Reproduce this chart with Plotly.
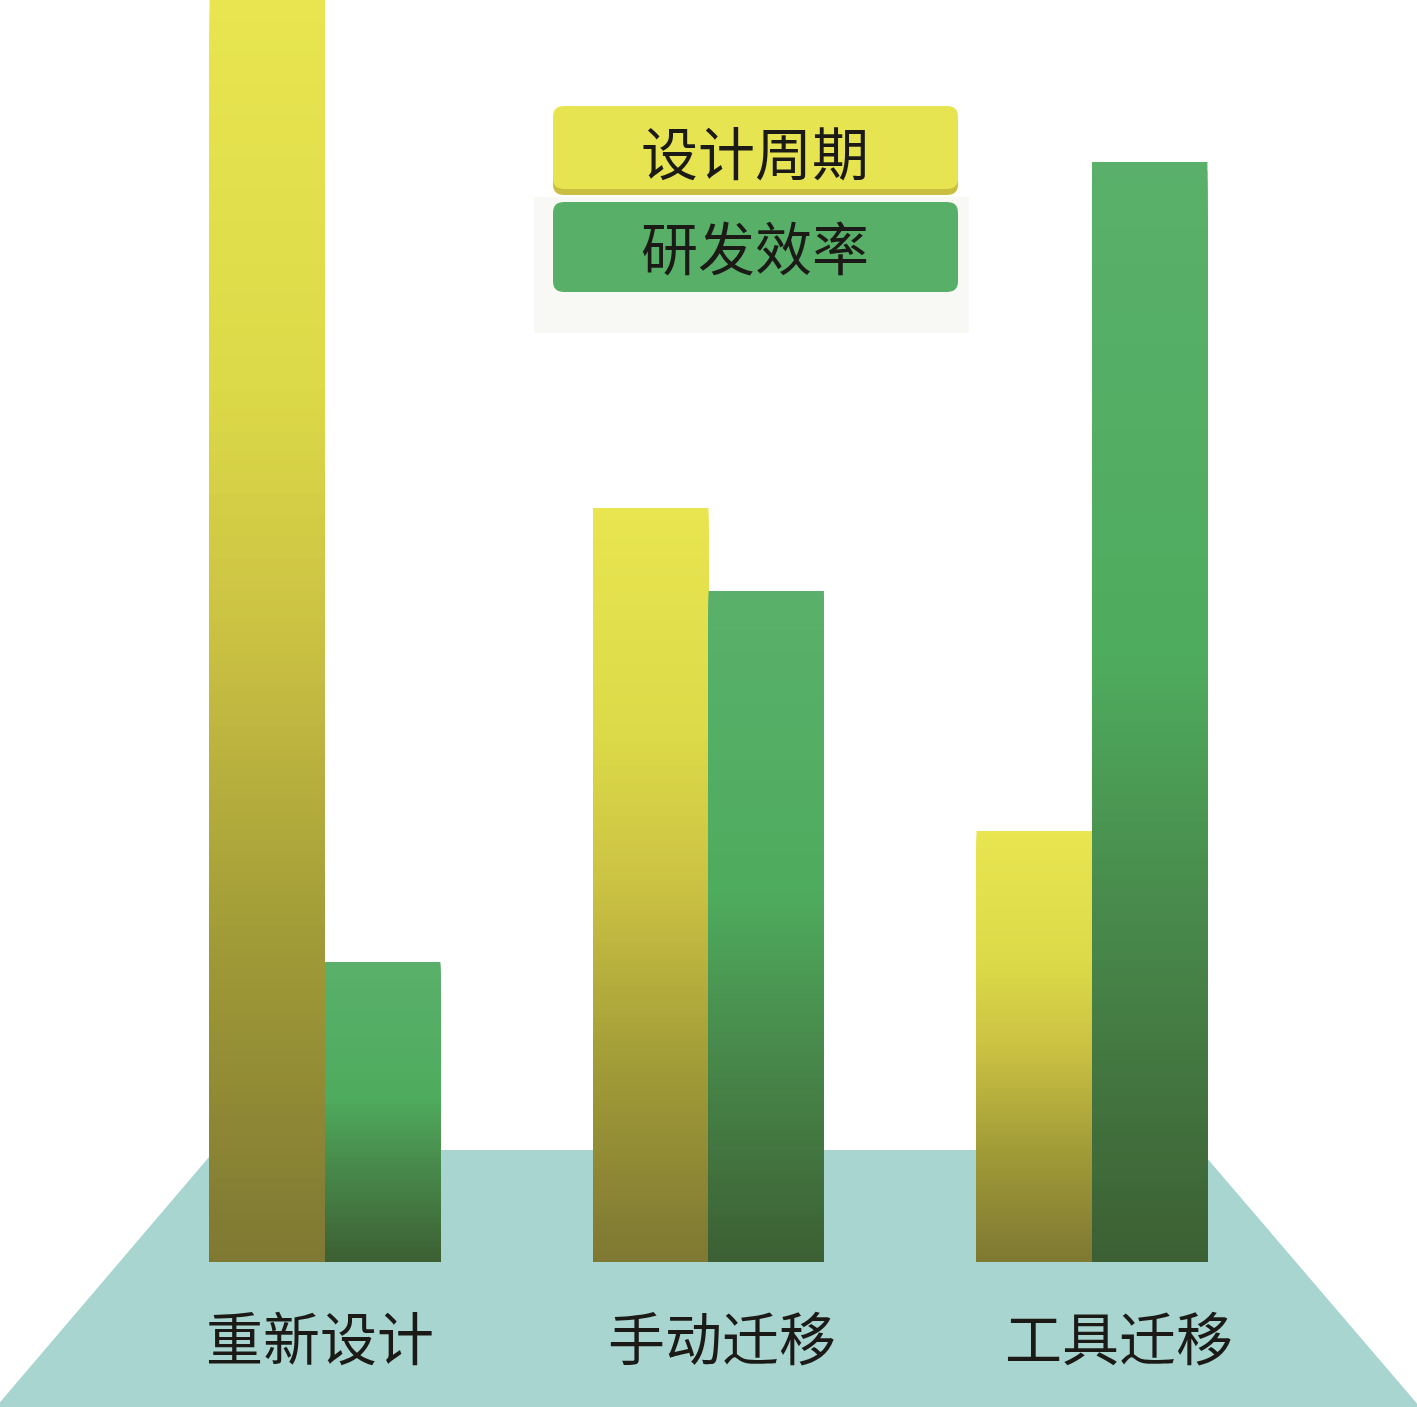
import plotly.graph_objects as go

# ---- data ----
categories = ["重新设计", "手动迁移", "工具迁移"]
series_names = ["设计周期", "研发效率"]
design_cycle = [12.62, 7.54, 4.31]
rd_efficiency = [3.00, 6.71, 11.00]

# ---- style ----
W, H = 1417, 1407
Y_TOP = 12.62
BASE_PX = 1262
Y_MIN = -Y_TOP * (H - BASE_PX) / BASE_PX
N_SEG = 120
BAR_W = 0.301

yellow_stops = [(0.0, "#E8E550"), (0.3, "#DCDA48"), (0.5, "#CBC243"),
                (0.75, "#A09A37"), (1.0, "#7E7833")]
green_stops = [(0.0, "#5AB06A"), (0.45, "#4EAC5E"), (0.62, "#4A9250"),
               (0.8, "#447A42"), (1.0, "#3C5F33")]


def hex2rgb(h):
    h = h.lstrip("#")
    return tuple(int(h[i:i + 2], 16) for i in (0, 2, 4))


def grad(stops, t):
    for (t0, c0), (t1, c1) in zip(stops[:-1], stops[1:]):
        if t <= t1:
            f = 0 if t1 == t0 else (t - t0) / (t1 - t0)
            a, b = hex2rgb(c0), hex2rgb(c1)
            r = [round(a[i] + (b[i] - a[i]) * f) for i in range(3)]
            return f"rgb({r[0]},{r[1]},{r[2]})"
    r = hex2rgb(stops[-1][1])
    return f"rgb({r[0]},{r[1]},{r[2]})"


fig = go.Figure()

for vals, stops, off in [(design_cycle, yellow_stops, -BAR_W),
                         (rd_efficiency, green_stops, 0.0)]:
    for k in range(N_SEG):
        frac = 1 - k / N_SEG
        fig.add_trace(go.Bar(
            x=list(range(len(categories))),
            y=[v * frac for v in vals],
            width=BAR_W, offset=off,
            marker=dict(color=grad(stops, (k + 0.5) / N_SEG), line=dict(width=0)),
            hoverinfo="skip", showlegend=False,
        ))

def px(x):
    return x / W

def py(y):
    return 1 - y / H

shapes = []
# floor trapezoid
shapes.append(dict(
    type="path", xref="paper", yref="paper", layer="below",
    path=f"M {px(215)},{py(1150)} L {px(1200)},{py(1150)} L {px(1420)},{py(1407)} L {px(-4)},{py(1407)} Z",
    fillcolor="#A8D5CF", line=dict(width=0),
))


def rounded(x0, y0, x1, y1, r):
    X0, X1 = px(x0), px(x1)
    Y0, Y1 = py(y0), py(y1)  # Y0 top, Y1 bottom
    rx, ry = r / W, r / H
    return (f"M {X0+rx},{Y0} L {X1-rx},{Y0} Q {X1},{Y0} {X1},{Y0-ry} "
            f"L {X1},{Y1+ry} Q {X1},{Y1} {X1-rx},{Y1} L {X0+rx},{Y1} "
            f"Q {X0},{Y1} {X0},{Y1+ry} L {X0},{Y0-ry} Q {X0},{Y0} {X0+rx},{Y0} Z")

# legend panel
shapes.append(dict(type="rect", xref="paper", yref="paper", layer="above",
                   x0=px(534), x1=px(969), y0=py(333), y1=py(197),
                   fillcolor="#F8F9F4", line=dict(width=0)))
# yellow legend box (with darker bottom rim)
shapes.append(dict(type="path", xref="paper", yref="paper", layer="above",
                   path=rounded(553, 110, 958, 195, 11), fillcolor="#C9BE3F", line=dict(width=0)))
shapes.append(dict(type="path", xref="paper", yref="paper", layer="above",
                   path=rounded(553, 106, 958, 189, 11), fillcolor="#E7E452", line=dict(width=0)))
# green legend box
shapes.append(dict(type="path", xref="paper", yref="paper", layer="above",
                   path=rounded(553, 202, 958, 292, 11), fillcolor="#58AF67", line=dict(width=0)))

FONT = "Noto Sans CJK SC"
annotations = []
for name, yc in zip(series_names, [150, 245]):
    annotations.append(dict(text=name, xref="paper", yref="paper", x=px(755), y=py(yc),
                            xanchor="center", yanchor="middle", showarrow=False,
                            font=dict(family=FONT, size=57, color="#1B1A17")))

label_shift = [-5, 13, 27]
for i, (c, s) in enumerate(zip(categories, label_shift)):
    annotations.append(dict(text=c, xref="x", yref="paper", x=i, xshift=s, y=py(1335),
                            xanchor="center", yanchor="middle", showarrow=False,
                            font=dict(family=FONT, size=57, color="#1B1A17")))

x_lo = -325 / 383.5
x_hi = x_lo + W / 383.5

fig.update_layout(
    width=W, height=H,
    margin=dict(l=0, r=0, t=0, b=0),
    paper_bgcolor="white", plot_bgcolor="rgba(0,0,0,0)",
    barmode="overlay", showlegend=False,
    xaxis=dict(range=[x_lo, x_hi], visible=False, fixedrange=True),
    yaxis=dict(range=[Y_MIN, Y_TOP], visible=False, fixedrange=True),
    shapes=shapes, annotations=annotations,
)

fig.write_html("out.html", config={"displayModeBar": False},
               post_script="document.body.style.margin='0';document.body.style.overflow='hidden';")
